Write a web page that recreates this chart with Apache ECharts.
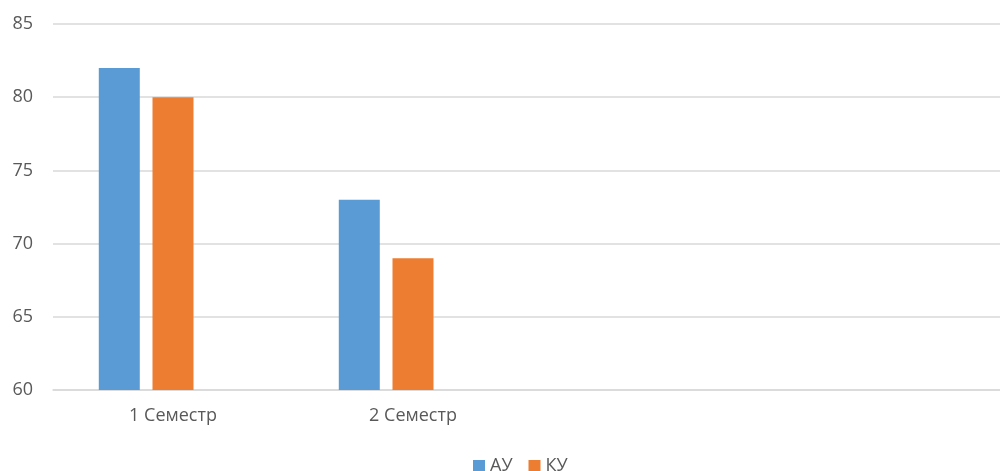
<!DOCTYPE html>
<html>
<head>
<meta charset="utf-8">
<script src="https://cdn.jsdelivr.net/npm/echarts@6/dist/echarts.min.js"></script>
<style>html,body{margin:0;padding:0;background:#fff}#c{width:1000px;height:471px}</style>
</head>
<body>
<div id="c"></div>
<script>
const categories = ['1 Семестр', '2 Семестр', '', ''];
const seriesNames = ['АУ', 'КУ'];
const valuesAU = [82, 73, '-', '-'];
const valuesKU = [80, 69, '-', '-'];
const valuesEmpty = ['-', '-', '-', '-'];
const yTicks = { min: 60, max: 85, interval: 5 };

const chart = echarts.init(document.getElementById('c'), null, { renderer: 'canvas' });
const font = '"Open Sans", "Noto Sans", sans-serif';
chart.setOption({
  animation: false,
  textStyle: { fontFamily: font },
  grid: { left: 53, width: 960, top: 24, bottom: 81, containLabel: false, outerBoundsMode: 'none' },
  legend: {
    data: seriesNames,
    top: 452,
    left: 468,
    icon: 'rect',
    itemWidth: 12,
    itemHeight: 12,
    itemGap: 16,
    textStyle: { color: '#595959', fontSize: 18, fontFamily: font }
  },
  xAxis: {
    type: 'category',
    data: categories,
    axisLine: { lineStyle: { color: '#d9d9d9', width: 1.5 } },
    axisTick: { show: false },
    axisLabel: { color: '#595959', fontSize: 18, margin: 17, fontFamily: font }
  },
  yAxis: {
    type: 'value',
    min: yTicks.min,
    max: yTicks.max,
    interval: yTicks.interval,
    axisLine: { show: false },
    axisTick: { show: false },
    splitLine: { lineStyle: { color: '#d9d9d9', width: 1.5 } },
    axisLabel: { color: '#595959', fontSize: 18, margin: 20, fontFamily: font }
  },
  series: [
    { name: seriesNames[0], type: 'bar', data: valuesAU, barWidth: 41, barGap: '31%', itemStyle: { color: '#5B9BD5' } },
    { name: seriesNames[1], type: 'bar', data: valuesKU, barWidth: 41, barGap: '31%', itemStyle: { color: '#ED7D31' } },
    { name: ' ', type: 'bar', data: valuesEmpty, barWidth: 41, barGap: '31%', itemStyle: { color: '#A5A5A5' } }
  ]
});
</script>
</body>
</html>
